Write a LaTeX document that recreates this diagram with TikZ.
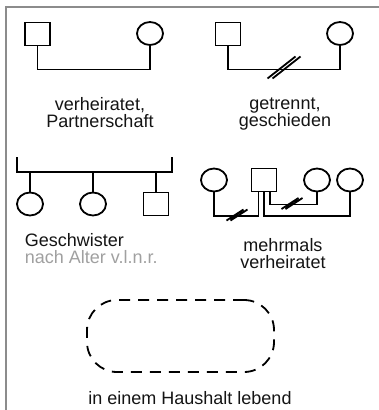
\documentclass[tikz,border=0pt]{standalone}
\usepackage{fontspec}
\setmainfont{Liberation Sans}
\usetikzlibrary{shapes.geometric}
\definecolor{rahmen}{HTML}{8C8C8C}
\definecolor{schrift}{HTML}{141414}
\definecolor{hell}{HTML}{A0A0A0}

\begin{document}
\begin{tikzpicture}[x=1pt,y=-1pt,line width=1.8pt,
  mann/.style={draw,rectangle,minimum width=25pt,minimum height=23pt,inner sep=0pt},
  frau/.style={draw,ellipse,minimum width=26pt,minimum height=23pt,inner sep=0pt},
  txt/.style={text=schrift,align=center,font=\fontsize{18}{17}\selectfont,inner sep=0pt}]

\useasboundingbox (0,0) rectangle (379,410);
\draw[rahmen,line width=2pt] (6,410) -- (6,7) -- (379,7);

\node[mann] (m1) at (37.5,34) {};

\node[frau] (f1) at (150,33.5) {};

\node[txt] (t1) at (100,113) {verheiratet,\\Partnerschaft};

\draw (m1.south) -- ++(0,23) -| (f1.south);


\node[mann] (m2) at (228,34) {};

\node[frau] (f2) at (340,33.5) {};

\node[txt] (t2) at (285,114) {getrennt,\\geschieden};

\coordinate (s2) at (284,67.5);

\draw (m2.south) -- ++(0,23) -| (f2.south);
\draw (s2) ++(-16.5,11) -- ++(28,-22) (s2) ++(-11.5,11) -- ++(28,-22);


\coordinate (gl) at (17,172);

\coordinate (gr) at (172,172);

\node[frau] (k1) at (30,204) {};

\node[frau] (k2) at (93,204) {};

\node[mann] (k3) at (156,204) {};

\node[txt,align=left,anchor=north west] (t3) at (24,233) {Geschwister\\\textcolor{hell}{nach Alter v.l.n.r.}};

\draw (gl) ++(0,-15) -- (gl) -- (gr) -- ++(0,-15);
\foreach \k in {k1,k2,k3}
  \draw (\k.north) -- (\k.north |- gl);


\node[frau] (f4a) at (214,180) {};

\node[mann] (m4) at (264,180) {};

\node[frau] (f4b) at (317,180) {};

\node[frau] (f4c) at (350,180) {};

\node[txt] (t4) at (283,254) {mehrmals\\verheiratet};

\coordinate (s4a) at (237,215);

\coordinate (s4b) at (292,203.5);

\draw (f4a.south) -- ++(0,23.5) -| ([xshift=-5.5pt]m4.south);
\draw ([xshift=6pt]m4.south) -- ++(0,12) -| (f4b.south);
\draw (m4.south) -- ++(0,23.5) -| (f4c.south);
\draw (s4a) ++(-10.5,5.5) -- ++(17,-11) (s4a) ++(-6.5,5.5) -- ++(17,-11);
\draw (s4b) ++(-10.5,5.5) -- ++(17,-11) (s4b) ++(-6.5,5.5) -- ++(17,-11);


\node[draw,rounded corners=30pt,dash pattern=on 11pt off 8pt,minimum width=187pt,minimum height=72pt] (hh) at (180.5,336) {};

\node[txt] (t5) at (190,398) {in einem Haushalt lebend};

\end{tikzpicture}
\end{document}
